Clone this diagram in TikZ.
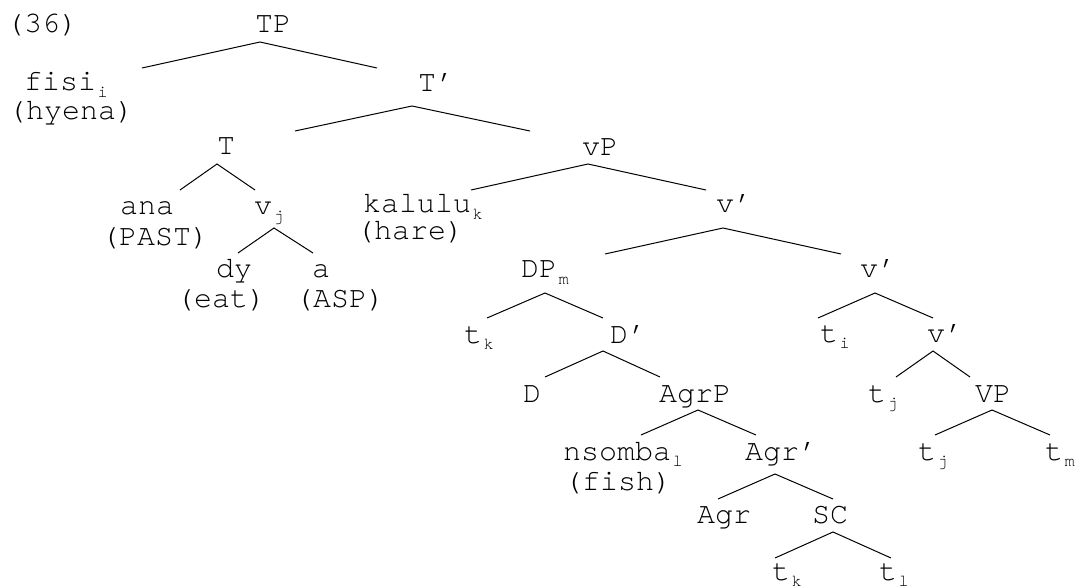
\documentclass[tikz,border=0pt]{standalone}
\usepackage{fontspec}
\setmainfont{texgyrecursor-regular.otf}[Ligatures={TeX,NoCommon}]
\usetikzlibrary{calc}
\newcommand{\idx}[1]{\kern0.7pt\raisebox{-3.2pt}{\fontsize{8.5}{9}\selectfont #1}}
\tikzset{
  lbl/.style    ={anchor=base,inner sep=0pt,font=\fontsize{15}{18}\selectfont},
  branch/.style ={line width=0.5pt},
}
\begin{document}
\begin{tikzpicture}[x=0.5pt,y=-0.5pt]
  \useasboundingbox (0,0) rectangle (1075,588);
  \node[lbl] (ex)     at (42,33)   {(36)};
  \node[lbl] (TP)     at (273,33)  {TP};
  \node[lbl] (fisi)   at (66,91)   {fisi\idx{i}};
  \node[lbl] (hyena)  at (71,120)  {(hyena)};
  \node[lbl] (Tbar)   at (436,92)  {T'};
  \node[lbl] (T)      at (226,155) {T};
  \node[lbl] (vP)     at (600,156) {vP};
  \node[lbl] (ana)    at (147,215) {ana};
  \node[lbl] (past)   at (155,245) {(PAST)};
  \node[lbl] (vj)     at (269,215) {v\idx{j}};
  \node[lbl] (kalulu) at (423,213) {kalulu\idx{k}};
  \node[lbl] (hare)   at (410,240) {(hare)};
  \node[lbl] (vbarA)  at (734,213) {v'};
  \node[lbl] (dy)     at (234,278) {dy};
  \node[lbl] (eat)    at (221,307) {(eat)};
  \node[lbl] (a)      at (321,278) {a};
  \node[lbl] (asp)    at (340,307) {(ASP)};
  \node[lbl] (DP)     at (545,278) {DP\idx{m}};
  \node[lbl] (vbarB)  at (878,278) {v'};
  \node[lbl] (tk)     at (479,343) {t\idx{k}};
  \node[lbl] (Dbar)   at (628,343) {D'};
  \node[lbl] (ti)     at (835,342) {t\idx{i}};
  \node[lbl] (vbarC)  at (945,342) {v'};
  \node[lbl] (D)      at (532,402) {D};
  \node[lbl] (AgrP)   at (695,402) {AgrP};
  \node[lbl] (tj)     at (883,402) {t\idx{j}};
  \node[lbl] (VP)     at (993,402) {VP};
  \node[lbl] (nsomba) at (623,460) {nsomba\idx{l}};
  \node[lbl] (fish)   at (618,490) {(fish)};
  \node[lbl] (Agrbar) at (781,460) {Agr'};
  \node[lbl] (tjj)    at (933,460) {t\idx{j}};
  \node[lbl] (tm)     at (1060,460) {t\idx{m}};
  \node[lbl] (Agr)    at (724,523) {Agr};
  \node[lbl] (SC)     at (830,523) {SC};
  \node[lbl] (tkk)    at (787,580) {t\idx{k}};
  \node[lbl] (tl)     at (894,580) {t\idx{l}};
  % mother / left daughter / right daughter, with offsets of the line ends
  \foreach \mom/\mx/\my/\kidl/\lx/\ly/\kidr/\rx/\ry in {
      TP/-13/9/fisi/76/-23/Tbar/-59/-24,
      Tbar/-24/14/T/69/-24/vP/-70/-25,
      T/-9/9/ana/33/-25/vj/-14/-25,
      vP/-12/8/kalulu/48/-23/vbarA/-28/-23,
      vj/5/13/dy/4/-25/a/-8/-25,
      vbarA/-11/15/DP/60/-24/vbarB/-37/-24,
      DP/0/15/tk/8/-25/Dbar/-25/-25,
      vbarB/-3/15/ti/-17/-24/vbarC/-12/-24,
      Dbar/-25/8/D/13/-25/AgrP/-35/-25,
      vbarC/-12/9/tj/13/-25/VP/-23/-25,
      AgrP/3/8/nsomba/18/-25/Agrbar/-25/-25,
      VP/-1/8/tjj/2/-25/tm/-10/-25,
      Agrbar/-6/14/Agr/-6/-24/SC/3/-24,
      SC/3/9/tkk/-12/-22/tl/-3/-22}{
    \draw[branch] ($(\kidl.base)+(\lx,\ly)$) -- ($(\mom.base)+(\mx,\my)$) -- ($(\kidr.base)+(\rx,\ry)$);
  }
\end{tikzpicture}
\end{document}
